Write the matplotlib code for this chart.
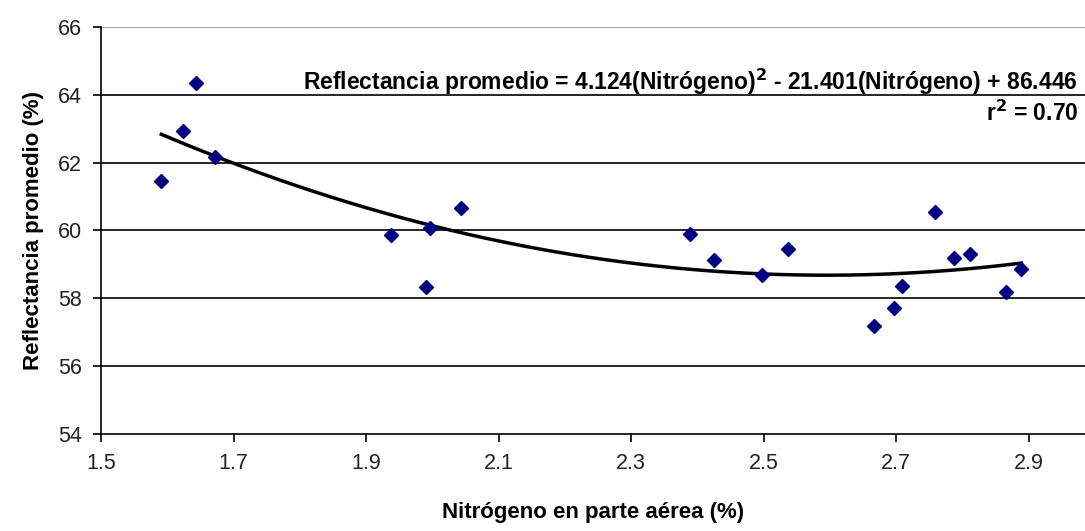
import numpy as np
import matplotlib
matplotlib.use('Agg')
import matplotlib.pyplot as plt

### Data
nitrogeno = [1.591, 1.624, 1.644, 1.672, 1.937, 1.991, 1.997, 2.043,
             2.389, 2.425, 2.497, 2.537, 2.667, 2.697, 2.709, 2.759,
             2.787, 2.811, 2.866, 2.889]
reflectancia = [61.46, 62.93, 64.35, 62.17, 59.88, 58.32, 60.06, 60.66,
                59.89, 59.14, 58.70, 59.44, 57.18, 57.72, 58.37, 60.55,
                59.19, 59.31, 58.19, 58.85]
coefs = [4.124, -21.401, 86.446]
xticks = [1.5, 1.7, 1.9, 2.1, 2.3, 2.5, 2.7, 2.9]
yticks = [54, 56, 58, 60, 62, 64, 66]

plt.rcParams['font.family'] = ['Liberation Sans', 'DejaVu Sans']

fig = plt.figure(figsize=(10.85, 5.31), dpi=100)
ax = fig.add_axes([0.0931, 0.1827, 0.9069, 0.7665])

### Gridlines
for yv in yticks[1:-1]:
    ax.axhline(yv, color='black', linewidth=1.2, zorder=1)
ax.axhline(yticks[-1], color='#999999', linewidth=1.2, zorder=1)

### Trend line
xfit = np.linspace(min(nitrogeno), max(nitrogeno), 200)
yfit = np.polyval(coefs, xfit)
ax.plot(xfit, yfit, color='black', linewidth=2.5, zorder=2)

### Points
ax.plot(nitrogeno, reflectancia, linestyle='none', marker='D',
        markersize=7.5, color='#000080', zorder=3)

ax.set_xlim(1.5, 2.985)
ax.set_ylim(54, 66)
ax.set_xticks(xticks)
ax.set_xticklabels(['%.1f' % v for v in xticks])
ax.set_yticks(yticks)
ax.spines['top'].set_visible(False)
ax.spines['right'].set_visible(False)
ax.spines['left'].set_linewidth(1.2)
ax.spines['bottom'].set_linewidth(1.2)
ax.tick_params('both', direction='out', length=6, width=1.2,
               labelsize=15.5, labelcolor='#222222', pad=8)

ax.set_xlabel('Nitrógeno en parte aérea (%)', fontsize=16,
              fontweight='bold', labelpad=20)
ax.set_ylabel('Reflectancia promedio (%)', fontsize=16,
              fontweight='bold', labelpad=10)

ax.text(0.993, 64.38,
        r'Reflectancia promedio = 4.124(Nitrógeno)$^\mathbf{2}$ - 21.401(Nitrógeno) + 86.446',
        fontsize=16.5, fontweight='bold', ha='right', va='center',
        transform=ax.get_yaxis_transform())
ax.text(0.993, 63.45, r'r$^\mathbf{2}$ = 0.70',
        fontsize=16.5, fontweight='bold', ha='right', va='center',
        transform=ax.get_yaxis_transform())

plt.savefig('out.png', dpi=100)
